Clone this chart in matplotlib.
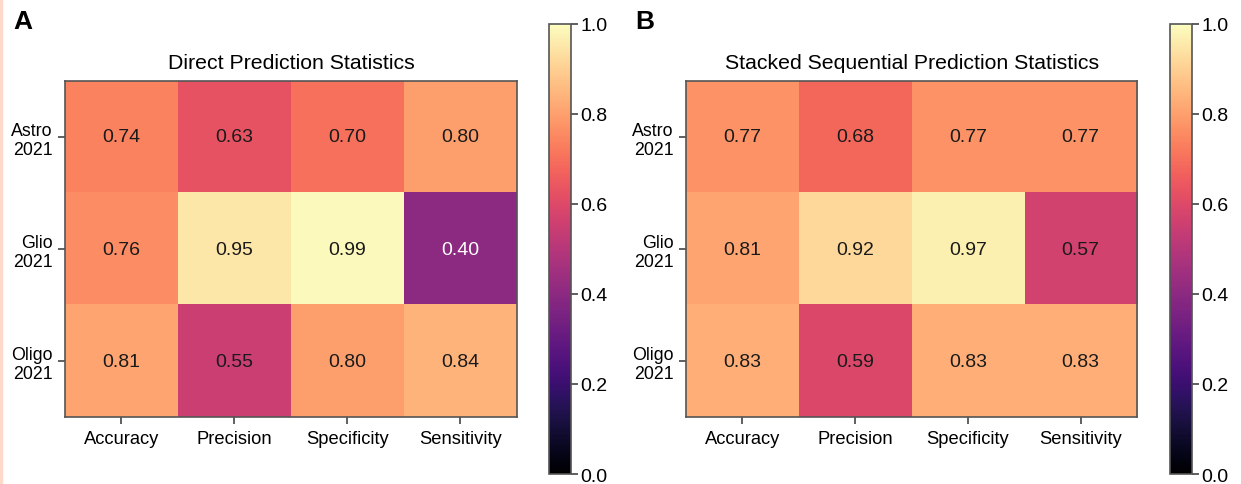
import numpy as np
import matplotlib.pyplot as plt
from matplotlib.patches import Rectangle

metrics = ["Accuracy", "Precision", "Specificity", "Sensitivity"]
classes = ["Astro\n2021", "Glio\n2021", "Oligo\n2021"]

direct = [[0.74, 0.63, 0.70, 0.80],
          [0.76, 0.95, 0.99, 0.40],
          [0.81, 0.55, 0.80, 0.84]]
stacked = [[0.77, 0.68, 0.77, 0.77],
           [0.81, 0.92, 0.97, 0.57],
           [0.83, 0.59, 0.83, 0.83]]

titles = ["Direct Prediction Statistics", "Stacked Sequential Prediction Statistics"]
panels = ["A", "B"]

plt.rcParams['font.family'] = ['Liberation Sans', 'DejaVu Sans']

fig = plt.figure(figsize=(12.41, 4.85), dpi=100)

def heat(ax, cax, data, title):
    data = np.array(data)
    im = ax.imshow(data, cmap="magma", vmin=0, vmax=1, aspect="auto")
    for i in range(data.shape[0]):
        for j in range(data.shape[1]):
            v = data[i, j]
            ax.text(j, i, f"{v:.2f}", ha="center", va="center", fontsize=14,
                    color="white" if v < 0.5 else "#1a1a1a")
    ax.set_xticks(range(len(metrics)))
    ax.set_xticklabels(metrics, fontsize=13.2)
    ax.set_yticks(range(len(classes)))
    ax.set_yticklabels(classes, fontsize=12.8, linespacing=1.15)
    ax.set_title(title, fontsize=15.3, pad=9)
    for s in ax.spines.values():
        s.set_color("#555555")
        s.set_linewidth(1.2)
    ax.tick_params(length=5, width=1.2, color="#444444", pad=4)
    cb = fig.colorbar(im, cax=cax, ticks=[0, 0.2, 0.4, 0.6, 0.8, 1.0])
    cb.outline.set_edgecolor("#555555")
    cb.outline.set_linewidth(1.2)
    cb.ax.tick_params(labelsize=14, length=5, width=1.2, color="#444444", pad=2)
    cb.ax.set_yticklabels(["0.0", "0.2", "0.4", "0.6", "0.8", "1.0"])

ax1 = fig.add_axes([0.0524, 0.138, 0.364, 0.693])
cax1 = fig.add_axes([0.4424, 0.0206, 0.0177, 0.928])
ax2 = fig.add_axes([0.5528, 0.138, 0.3635, 0.693])
cax2 = fig.add_axes([0.9428, 0.0206, 0.0177, 0.928])

heat(ax1, cax1, direct, titles[0])
heat(ax2, cax2, stacked, titles[1])

fig.text(0.0105, 0.955, panels[0], fontsize=19, fontweight="bold", va="center")
fig.text(0.512, 0.955, panels[1], fontsize=19, fontweight="bold", va="center")

# faint page border on the left edge
fig.patches.append(Rectangle((0, 0), 0.002, 1, transform=fig.transFigure,
                             color="#fcd9c8", zorder=0))

fig.savefig("out.png", dpi=100)
